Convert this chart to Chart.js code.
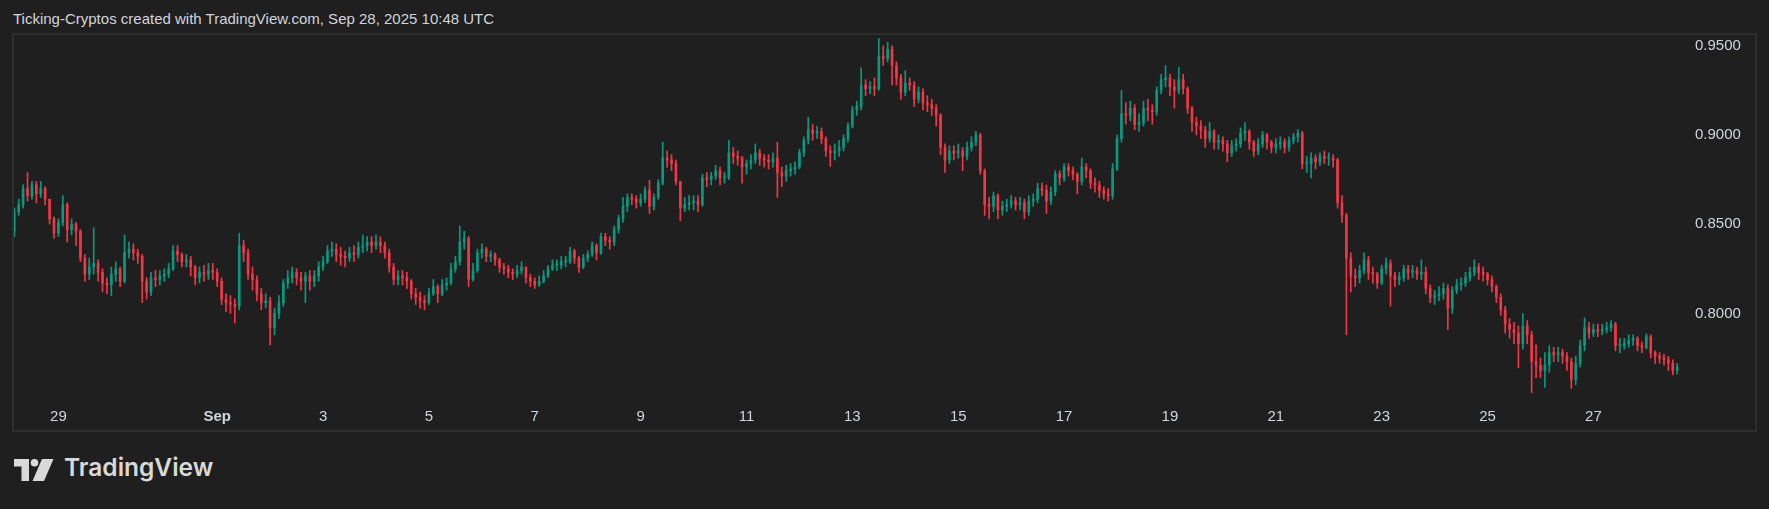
<!DOCTYPE html>
<html>
<head>
<meta charset="utf-8">
<title>Ticking-Cryptos</title>
<script src="https://cdn.jsdelivr.net/npm/chart.js@4.4.1/dist/chart.umd.min.js"></script>
<style>
  html, body { margin: 0; padding: 0; background: #1f1f1f; }
  body { width: 1769px; height: 509px; position: relative; overflow: hidden; font-family: "Liberation Sans", Arial, sans-serif; }
  .title { position: absolute; left: 13px; top: 10px; font-size: 15px; color: #d1d4dc; white-space: nowrap; }
  .frame { position: absolute; left: 12px; top: 33px; width: 1741px; height: 395px; border: 2px solid #2e2e2e; }
  .frame canvas { display: block; }
  .logo-icon { position: absolute; left: 14px; top: 459px; }
  .logo-text { position: absolute; left: 64px; top: 455px; font-family: Inter, "Noto Sans", sans-serif; font-weight: 600; font-size: 24.5px; line-height: 25px; color: #d9d9d9; }
</style>
</head>
<body>
<div class="title">Ticking-Cryptos created with TradingView.com, Sep 28, 2025 10:48 UTC</div>
<div class="frame"><canvas id="chart" width="1741" height="395"></canvas></div>
<svg class="logo-icon" width="40" height="22" viewBox="0 0 40 22">
  <path d="M0 0H15V22H7.5V7.5H0Z" fill="#d9d9d9"/>
  <circle cx="20.5" cy="3.8" r="3.8" fill="#d9d9d9"/>
  <path d="M28 0H39.5L30 22H18.5Z" fill="#d9d9d9"/>
</svg>
<div class="logo-text">TradingView</div>
<script>
// 2h candles, hours counted from Aug 29 00:00; first candle Aug 28 04:00
const firstHour = -20;
const stepHours = 2;
const firstOpen = 0.846;

const closes = [
  .857,.861,.870,.866,.872,.867,.870,.864,.853,.845, // Aug 28
  .851,.861,.847,.850,.846,.831,.822,.826,.828,.823,.817,.816, // Aug 29
  .822,.825,.818,.834,.836,.834,.832,.818,.812,.820,.819,.821, // Aug 30
  .822,.825,.835,.833,.829,.830,.826,.820,.823,.822,.824,.823, // Aug 31
  .818,.808,.806,.805,.804,.838,.834,.822,.819,.811,.806,.807, // Sep 1
  .792,.800,.806,.817,.820,.823,.820,.818,.821,.818,.821,.826, // Sep 2
  .829,.835,.836,.833,.832,.831,.834,.833,.837,.838,.840,.838, // Sep 3
  .840,.838,.834,.826,.819,.821,.820,.818,.811,.809,.807,.806, // Sep 4
  .811,.815,.811,.816,.817,.825,.829,.840,.842,.819,.824,.834, // Sep 5
  .836,.832,.833,.830,.826,.825,.823,.822,.824,.826,.820,.818, // Sep 6
  .816,.818,.821,.825,.827,.827,.829,.829,.835,.831,.826,.831, // Sep 7
  .833,.838,.834,.843,.841,.840,.847,.853,.860,.865,.864,.862, // Sep 8
  .864,.869,.860,.865,.873,.887,.886,.884,.874,.859,.861,.862, // Sep 9
  .863,.861,.876,.875,.877,.880,.876,.876,.890,.888,.887,.882, // Sep 10
  .884,.886,.890,.887,.886,.885,.887,.879,.877,.880,.881,.882, // Sep 11
  .890,.897,.903,.901,.902,.898,.891,.890,.891,.893,.898,.905, // Sep 12
  .914,.916,.928,.926,.927,.926,.944,.943,.948,.939,.932,.924, // Sep 13
  .929,.928,.920,.924,.918,.917,.915,.911,.893,.886,.891,.890, // Sep 14
  .891,.888,.893,.896,.900,.880,.861,.860,.866,.858,.860,.861, // Sep 15
  .863,.861,.862,.857,.863,.864,.870,.869,.863,.868,.878,.876, // Sep 16
  .882,.880,.878,.874,.882,.880,.873,.872,.869,.867,.866,.881, // Sep 17
  .898,.912,.911,.915,.906,.907,.915,.914,.913,.925,.931,.932, // Sep 18
  .927,.925,.931,.926,.915,.907,.905,.903,.898,.902,.896,.897, // Sep 19
  .895,.890,.894,.895,.901,.902,.896,.891,.895,.900,.896,.893, // Sep 20
  .895,.896,.893,.897,.899,.901,.884,.884,.887,.885,.888,.887, // Sep 21
  .887,.886,.862,.855,.831,.821,.820,.824,.830,.823,.822,.817, // Sep 22
  .825,.828,.821,.819,.820,.825,.823,.824,.822,.823,.814,.809, // Sep 23
  .810,.811,.814,.803,.813,.816,.817,.820,.823,.826,.823,.822, // Sep 24
  .819,.815,.809,.802,.794,.791,.789,.783,.793,.788,.773,.771, // Sep 25
  .768,.771,.778,.777,.778,.776,.773,.763,.772,.782,.792,.789, // Sep 26
  .791,.790,.791,.792,.794,.782,.782,.783,.785,.786,.782,.781, // Sep 27
  .787,.778,.776,.775,.774,.772,.768,.770 // Sep 28
];

const highs = [
  .859,.864,.872,.879,.874,.874,.874,.871,.864,.854,
  .853,.866,.862,.853,.851,.847,.833,.831,.848,.830,.825,.820,
  .826,.829,.826,.844,.840,.839,.836,.833,.820,.823,.824,.824,
  .825,.828,.838,.838,.834,.833,.832,.827,.826,.827,.828,.828,
  .825,.820,.811,.810,.808,.845,.841,.836,.826,.821,.814,.811,
  .809,.803,.810,.819,.824,.826,.825,.823,.823,.824,.824,.829,
  .832,.838,.840,.839,.837,.835,.837,.838,.840,.844,.843,.843,
  .844,.843,.840,.836,.828,.824,.824,.823,.819,.814,.812,.810,
  .814,.819,.816,.819,.820,.828,.832,.849,.846,.843,.828,.836,
  .839,.837,.835,.834,.831,.828,.827,.825,.827,.829,.826,.822,
  .820,.821,.824,.827,.830,.830,.832,.832,.837,.836,.832,.833,
  .835,.840,.839,.845,.845,.843,.849,.855,.865,.867,.867,.866,
  .867,.871,.8746,.867,.875,.896,.891,.889,.886,.874,.865,.866,
  .866,.866,.878,.879,.879,.883,.882,.879,.897,.893,.891,.888,
  .886,.889,.895,.892,.889,.889,.890,.896,.882,.883,.884,.885,
  .892,.899,.910,.906,.905,.904,.899,.894,.895,.897,.900,.907,
  .916,.919,.9377,.931,.930,.932,.954,.950,.952,.950,.941,.934,
  .936,.932,.930,.927,.926,.922,.920,.917,.912,.895,.894,.894,
  .895,.893,.896,.899,.902,.901,.881,.865,.868,.867,.863,.864,
  .866,.865,.865,.864,.866,.867,.873,.873,.872,.871,.880,.880,
  .884,.884,.882,.879,.887,.884,.881,.876,.874,.871,.870,.884,
  .900,.925,.918,.919,.917,.912,.919,.920,.917,.927,.934,.939,
  .934,.931,.938,.934,.927,.916,.910,.908,.905,.907,.903,.900,
  .899,.897,.897,.898,.904,.907,.903,.897,.898,.902,.901,.897,
  .898,.899,.898,.899,.901,.903,.902,.888,.890,.889,.890,.891,
  .890,.889,.887,.866,.856,.834,.825,.827,.834,.832,.826,.823,
  .827,.831,.830,.823,.823,.827,.827,.827,.826,.830,.826,.816,
  .813,.815,.817,.816,.815,.819,.820,.823,.826,.830,.828,.826,
  .823,.821,.816,.811,.804,.797,.795,.793,.800,.796,.790,.7824,
  .775,.778,.782,.781,.781,.780,.778,.775,.776,.785,.7975,.795,
  .794,.794,.794,.795,.796,.795,.786,.786,.788,.788,.787,.784,
  .7885,.788,.779,.778,.777,.776,.774,.772
];

const lows = [
  .843,.855,.859,.863,.864,.862,.865,.861,.850,.842,
  .843,.849,.840,.844,.838,.829,.818,.819,.822,.818,.812,.811,
  .810,.818,.815,.817,.831,.830,.828,.806,.808,.810,.815,.816,
  .818,.820,.824,.829,.826,.826,.821,.816,.817,.818,.819,.819,
  .815,.805,.801,.800,.7946,.802,.829,.819,.813,.807,.802,.803,
  .7824,.788,.797,.804,.814,.817,.816,.813,.806,.813,.815,.818,
  .824,.828,.832,.829,.827,.826,.829,.829,.831,.834,.835,.834,
  .836,.834,.831,.823,.816,.816,.816,.814,.808,.805,.803,.802,
  .805,.810,.806,.810,.813,.816,.823,.827,.836,.815,.818,.823,
  .831,.829,.829,.827,.823,.822,.820,.819,.820,.822,.817,.815,
  .814,.815,.817,.820,.824,.824,.825,.826,.828,.828,.823,.825,
  .829,.832,.830,.833,.838,.836,.838,.845,.851,.857,.861,.859,
  .860,.862,.856,.858,.864,.872,.882,.880,.872,.852,.857,.858,
  .858,.857,.860,.871,.872,.875,.872,.873,.875,.884,.883,.873,
  .878,.881,.884,.883,.882,.881,.882,.865,.871,.874,.877,.878,
  .881,.888,.895,.897,.898,.895,.888,.8824,.886,.888,.891,.896,
  .904,.911,.914,.922,.923,.922,.925,.939,.941,.928,.928,.920,
  .922,.925,.916,.918,.914,.913,.911,.905,.889,.879,.884,.886,
  .887,.880,.886,.891,.894,.878,.855,.853,.857,.853,.855,.857,
  .859,.858,.858,.853,.855,.860,.862,.866,.856,.861,.866,.872,
  .874,.877,.875,.867,.872,.876,.870,.868,.865,.864,.863,.864,
  .880,.896,.906,.908,.903,.902,.905,.908,.906,.911,.923,.927,
  .922,.915,.923,.923,.912,.902,.900,.898,.893,.896,.892,.892,
  .891,.885,.888,.891,.893,.897,.892,.888,.889,.893,.892,.890,
  .890,.892,.890,.891,.895,.896,.881,.879,.876,.881,.883,.884,
  .883,.882,.859,.851,.788,.812,.815,.817,.822,.819,.817,.814,
  .816,.822,.804,.815,.816,.818,.819,.820,.819,.819,.811,.806,
  .805,.807,.808,.791,.800,.811,.813,.815,.818,.821,.819,.818,
  .816,.812,.806,.799,.789,.786,.783,.7695,.780,.783,.7556,.764,
  .764,.7585,.767,.773,.773,.772,.768,.758,.760,.770,.779,.786,
  .787,.787,.788,.789,.790,.779,.778,.780,.781,.782,.779,.778,
  .780,.775,.772,.772,.771,.768,.7656,.766
];

const xTickHours = [0, 72, 120, 168, 216, 264, 312, 360, 408, 456, 504, 552, 600, 648, 696];
const xTickLabels = ['29', 'Sep', '3', '5', '7', '9', '11', '13', '15', '17', '19', '21', '23', '25', '27'];
const yTicks = [0.80, 0.85, 0.90, 0.95];

const UP = '#089981';
const DOWN = '#f23645';
const TEXT = '#d1d4dc';
const FONT = '"Liberation Sans", Arial, sans-serif';

const n = Math.min(closes.length, highs.length, lows.length);
const times = [], opens = [], colors = [];
for (let i = 0; i < n; i++) {
  times.push(firstHour + i * stepHours);
  opens.push(i === 0 ? firstOpen : closes[i - 1]);
  colors.push(closes[i] >= opens[i] ? UP : DOWN);
}

const wicks = times.map((t, i) => ({ x: t, y: [lows[i], highs[i]] }));
const bodies = times.map((t, i) => ({ x: t, y: [opens[i], closes[i]] }));

// keep the plot area edge to edge: no extra room for half labels
const noPad = (s) => { s.paddingTop = 0; s.paddingBottom = 0; s.paddingLeft = 0; s.paddingRight = 0; };

new Chart(document.getElementById('chart'), {
  type: 'bar',
  data: {
    datasets: [
      { data: wicks, backgroundColor: colors, barThickness: 1, grouped: false, order: 2 },
      { data: bodies, backgroundColor: colors, barThickness: 2, grouped: false, minBarLength: 1, order: 1 }
    ]
  },
  options: {
    responsive: false,
    animation: false,
    events: [],
    layout: { padding: 0 },
    plugins: { legend: { display: false }, tooltip: { enabled: false } },
    scales: {
      x: {
        type: 'linear',
        min: -20.13,
        max: 739.8,
        offset: false,
        grid: { display: false, drawTicks: false },
        border: { display: false },
        afterBuildTicks: (s) => { s.ticks = xTickHours.map((v) => ({ value: v })); },
        afterFit: (s) => { s.height = 30; noPad(s); },
        ticks: {
          autoSkip: false,
          maxRotation: 0,
          padding: 8,
          color: TEXT,
          font: (ctx) => ({ family: FONT, size: 15, weight: isNaN(Number(xTickLabels[ctx.index])) ? 'bold' : 'normal' }),
          callback: (v, i) => xTickLabels[i]
        }
      },
      y: {
        position: 'right',
        min: 0.75146,
        max: 0.95605,
        beginAtZero: false,
        grid: { display: false, drawTicks: false },
        border: { display: false },
        afterBuildTicks: (s) => { s.ticks = yTicks.map((v) => ({ value: v })); },
        afterFit: (s) => { s.width = 65; noPad(s); },
        ticks: {
          padding: 5,
          color: TEXT,
          font: { family: FONT, size: 15 },
          callback: (v) => v.toFixed(4)
        }
      }
    }
  }
});
</script>
</body>
</html>
